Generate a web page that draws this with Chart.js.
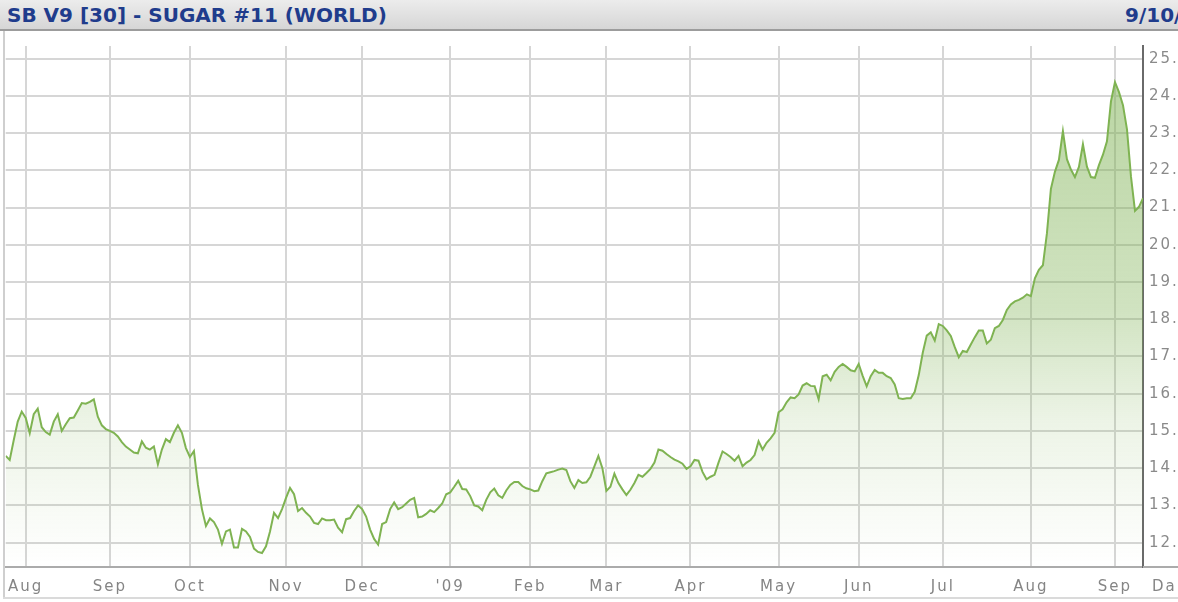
<!DOCTYPE html>
<html>
<head>
<meta charset="utf-8">
<script src="https://cdn.jsdelivr.net/npm/chart.js@4.4.1/dist/chart.umd.min.js"></script>
<style>
  html, body { margin: 0; padding: 0; background: #fff; overflow: hidden; }
  body { width: 1178px; height: 602px; position: relative; }
  #head {
    position: absolute; left: 0; top: 0; width: 1178px; height: 29px;
    background: linear-gradient(#ececec, #d6d6d6);
    border-bottom: 2px solid #9c9c9c;
    font: bold 20px "DejaVu Sans", sans-serif; color: #1f3c8c;
    overflow: hidden; white-space: nowrap;
  }
  #head .title { position: absolute; left: 7px; top: 3px; }
  #head .date { position: absolute; left: 1125px; top: 3px; }
  #frame { position: absolute; left: 3px; top: 31px; width: 2px; height: 568px; background: #cfcfcf; }
  #foot { position: absolute; left: 3px; top: 597px; width: 1175px; height: 2px; background: #dadada; }
  #wrap { position: absolute; left: 0; top: 31px; width: 1210px; height: 571px; }
</style>
</head>
<body>
<div id="head"><span class="title">SB V9 [30] - SUGAR #11 (WORLD)</span><span class="date">9/10/09</span></div>
<div id="wrap"><canvas id="sugarChart" width="1210" height="571"></canvas></div>
<div id="frame"></div>
<div id="foot"></div>
<script>
// daily settle, Aug 2008 - Sep 2009
const closes = [
  14.33, 14.22, 14.75, 15.25, 15.52, 15.35, 14.94, 15.45, 15.6, 15.1,
  14.97, 14.9, 15.25, 15.45, 15.0, 15.18, 15.34, 15.36, 15.55, 15.75,
  15.73, 15.78, 15.85, 15.38, 15.15, 15.05, 15.0, 14.95, 14.85, 14.7,
  14.58, 14.5, 14.42, 14.4, 14.72, 14.55, 14.5, 14.58, 14.1, 14.5,
  14.78, 14.7, 14.95, 15.15, 14.95, 14.54, 14.3, 14.46, 13.55, 12.9,
  12.45, 12.65, 12.55, 12.35, 11.97, 12.3, 12.35, 11.87, 11.87, 12.37,
  12.3, 12.15, 11.84, 11.75, 11.72, 11.9, 12.3, 12.8, 12.66, 12.9,
  13.2, 13.47, 13.3, 12.85, 12.93, 12.8, 12.7, 12.53, 12.5, 12.65,
  12.6, 12.6, 12.62, 12.4, 12.28, 12.63, 12.66, 12.85, 13.0, 12.9,
  12.7, 12.35, 12.1, 11.95, 12.5, 12.55, 12.9, 13.08, 12.9, 12.95,
  13.05, 13.15, 13.2, 12.68, 12.7, 12.77, 12.87, 12.82, 12.93, 13.05,
  13.3, 13.35, 13.5, 13.66, 13.44, 13.43, 13.25, 13.0, 12.97, 12.87,
  13.15, 13.35, 13.45, 13.27, 13.2, 13.4, 13.55, 13.63, 13.63, 13.52,
  13.46, 13.43, 13.38, 13.4, 13.65, 13.86, 13.89, 13.92, 13.96, 13.99,
  13.95, 13.65, 13.47, 13.68, 13.6, 13.62, 13.77, 14.05, 14.33, 14.0,
  13.39, 13.5, 13.85, 13.6, 13.43, 13.28, 13.42, 13.6, 13.82, 13.77,
  13.87, 13.98, 14.15, 14.5, 14.47, 14.38, 14.3, 14.23, 14.18, 14.12,
  13.98, 14.05, 14.22, 14.2, 13.9, 13.7, 13.77, 13.82, 14.15, 14.45,
  14.38, 14.3, 14.2, 14.33, 14.05, 14.15, 14.22, 14.35, 14.72, 14.5,
  14.68, 14.8, 14.95, 15.5, 15.58, 15.77, 15.9, 15.88, 15.98, 16.22,
  16.28, 16.21, 16.2, 15.85, 16.47, 16.51, 16.36, 16.59, 16.72, 16.8,
  16.72, 16.63, 16.6, 16.8, 16.48, 16.2, 16.47, 16.64, 16.56, 16.56,
  16.47, 16.42, 16.25, 15.88, 15.86, 15.88, 15.88, 16.05, 16.5, 17.1,
  17.56, 17.65, 17.43, 17.87, 17.82, 17.7, 17.55, 17.25, 16.98, 17.15,
  17.12, 17.32, 17.52, 17.7, 17.7, 17.35, 17.45, 17.76, 17.82, 17.98,
  18.25, 18.4, 18.48, 18.52, 18.58, 18.67, 18.62, 19.1, 19.33, 19.45,
  20.3, 21.5, 21.96, 22.28, 23.05, 22.3, 22.02, 21.82, 22.09, 22.7,
  22.1, 21.82, 21.8, 22.14, 22.42, 22.78, 23.85, 24.37, 24.1, 23.75,
  23.1, 21.83, 20.91, 21.02, 21.25,
]

// session index where each month starts
const monthStarts = [5, 26, 46, 70, 89, 111, 131, 150, 171, 193, 213, 234, 256, 277]
const monthLabels = ['Aug', 'Sep', 'Oct', 'Nov', 'Dec', "'09", 'Feb', 'Mar', 'Apr', 'May', 'Jun', 'Jul', 'Aug', 'Sep']
const priceTicks = [12, 13, 14, 15, 16, 17, 18, 19, 20, 21, 22, 23, 24, 25]

const LABEL_FONT = { family: '"DejaVu Sans", sans-serif', size: 15 }
const GRID_COLOR = '#d6d6d6'

function areaFill(context) {
  const area = context.chart.chartArea
  if (!area) {
    return 'rgba(0,0,0,0)'
  }
  const grad = context.chart.ctx.createLinearGradient(0, area.top, 0, area.bottom)
  grad.addColorStop(0, 'rgba(124,176,80,0.55)')
  grad.addColorStop(0.5, 'rgba(124,176,80,0.36)')
  grad.addColorStop(0.72, 'rgba(124,176,80,0.14)')
  grad.addColorStop(1, 'rgba(124,176,80,0)')
  return grad
}

const chartExtras = {
  id: 'chartExtras',
  beforeDraw(chart) {
    chart.ctx.letterSpacing = '2px'
  },
  afterDraw(chart) {
    const { ctx, chartArea } = chart
    ctx.save()
    ctx.fillStyle = '#ababab'
    ctx.fillRect(chartArea.right, chartArea.bottom - 1, chart.width - chartArea.right, 2)
    ctx.font = '15px "DejaVu Sans", sans-serif'
    ctx.fillStyle = '#858585'
    ctx.textBaseline = 'middle'
    ctx.textAlign = 'left'
    ctx.fillText('Daily', chartArea.right + 9, chartArea.bottom + 20)
    ctx.restore()
  },
}

function initializeChart() {
  const canvas = document.getElementById('sugarChart')
  if (!canvas || typeof Chart === 'undefined') {
    return null
  }

  return new Chart(canvas, {
    type: 'line',
    data: {
      datasets: [
        {
          data: closes.map((v, i) => ({ x: i, y: v })),
          borderColor: '#7fb352',
          borderWidth: 2,
          pointRadius: 0,
          tension: 0,
          fill: 'start',
          backgroundColor: areaFill,
        },
      ],
    },
    options: {
      responsive: false,
      animation: false,
      layout: { padding: { left: 5, top: 2, right: 0, bottom: 0 } },
      plugins: {
        legend: { display: false },
        tooltip: { enabled: false },
      },
      scales: {
        x: {
          type: 'linear',
          min: 0,
          max: closes.length - 1,
          afterBuildTicks: (scale) => {
            scale.ticks = monthStarts.map((v) => ({ value: v }))
          },
          afterFit: (scale) => {
            scale.height = 35
          },
          grid: { color: GRID_COLOR, lineWidth: 2, drawTicks: false },
          border: { color: '#ababab', width: 2 },
          ticks: {
            autoSkip: false,
            maxRotation: 0,
            padding: 11,
            color: '#858585',
            font: LABEL_FONT,
            callback: (value, index) => monthLabels[index],
          },
        },
        y: {
          position: 'right',
          min: 11.345,
          max: 25.34,
          afterBuildTicks: (scale) => {
            scale.ticks = priceTicks.map((v) => ({ value: v }))
          },
          afterFit: (scale) => {
            scale.width = 67
          },
          grid: { color: GRID_COLOR, lineWidth: 2, drawTicks: false },
          border: { color: '#6a6a6a', width: 2 },
          ticks: {
            padding: 6,
            color: '#8a8a8a',
            font: LABEL_FONT,
            callback: (value) => Number(value).toFixed(2),
          },
        },
      },
    },
    plugins: [chartExtras],
  })
}

globalThis.addEventListener('DOMContentLoaded', () => {
  initializeChart()
})
</script>
</body>
</html>
